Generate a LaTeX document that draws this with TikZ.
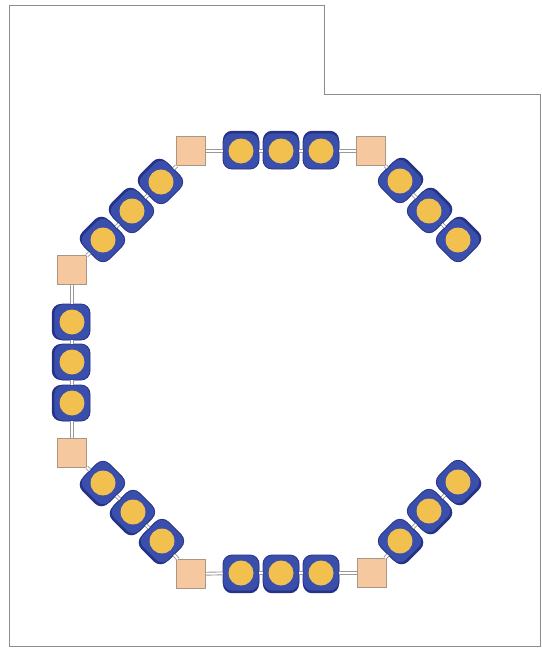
\documentclass[tikz,border=0pt]{standalone}
\usepackage{tikz}

\definecolor{beadblue}{RGB}{58,78,172}
\definecolor{beaddark}{RGB}{38,50,132}
\definecolor{beadyellow}{RGB}{242,192,78}
\definecolor{linktan}{RGB}{245,200,160}
\definecolor{linkedge}{RGB}{170,150,130}
\definecolor{framegray}{RGB}{140,140,140}

\tikzset{
  bead/.style={shape=rectangle, rounded corners=9pt, minimum size=36pt,
    fill=beadblue, draw=beaddark, line width=0.8pt, rotate=#1-90,
    preaction={fill=beaddark, transform canvas={shift={(#1:2.2pt)}}},
    path picture={\fill[beadyellow] (path picture bounding box.center) circle (12.5pt);}},
  joint/.style={shape=rectangle, minimum size=29pt, fill=linktan, draw=linkedge, line width=0.7pt},
  link/.style={draw=gray!80, double=white, double distance=2pt, line width=0.9pt},
  frame/.style={draw=framegray, line width=1pt}
}

\begin{document}
\begin{tikzpicture}[x=1pt,y=-1pt]
  \useasboundingbox (0,0) rectangle (541,648);
  \draw[frame] (9,5) -- (324,5) -- (324,94) -- (540,94) -- (540,646) -- (9,646) -- cycle;

  % top right arm
  \node[bead=45]  (n1) at (458,240) {};
  \node[bead=45]  (n2) at (429,211) {};
  \node[bead=45]  (n3) at (400,181) {};
  \node[joint]    (n4) at (371,151) {};
  % top row
  \node[bead=90]  (n5) at (321,151) {};
  \node[bead=90]  (n6) at (281,151) {};
  \node[bead=90]  (n7) at (241,151) {};
  \node[joint]    (n8) at (191,151) {};
  % top left diagonal
  \node[bead=135] (n9) at (161,182) {};
  \node[bead=135] (n10) at (132,211) {};
  \node[bead=135] (n11) at (103,240) {};
  \node[joint]    (n12) at (72,270) {};
  % left column
  \node[bead=180] (n13) at (72,322) {};
  \node[bead=180] (n14) at (72,362) {};
  \node[bead=180] (n15) at (72,403) {};
  \node[joint]    (n16) at (72,453) {};
  % bottom left diagonal
  \node[bead=225] (n17) at (103,483) {};
  \node[bead=225] (n18) at (133,512) {};
  \node[bead=225] (n19) at (162,541) {};
  \node[joint]    (n20) at (191,574) {};
  % bottom row
  \node[bead=270] (n21) at (241,573) {};
  \node[bead=270] (n22) at (281,573) {};
  \node[bead=270] (n23) at (321,573) {};
  \node[joint]    (n24) at (372,573) {};
  % bottom right arm
  \node[bead=315] (n25) at (400,541) {};
  \node[bead=315] (n26) at (429,511) {};
  \node[bead=315] (n27) at (458,482) {};

  \foreach \i [count=\j from 2] in {1,...,26}
    \draw[link] (n\i) -- (n\j);
\end{tikzpicture}
\end{document}
